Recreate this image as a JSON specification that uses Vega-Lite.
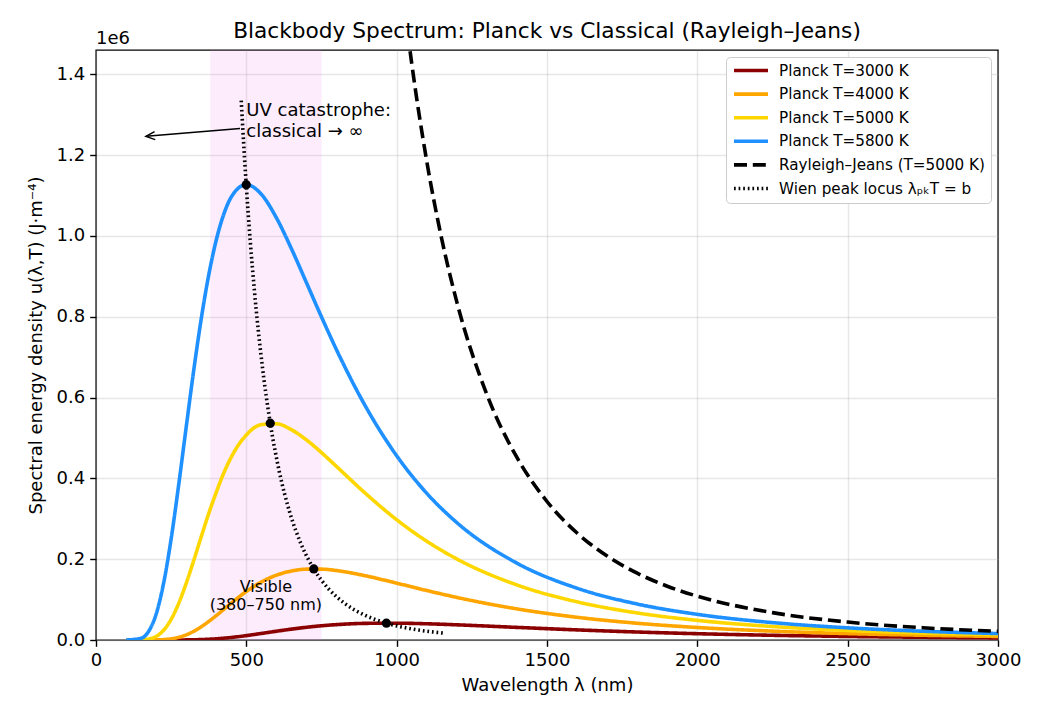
{
  "$schema": "https://vega.github.io/schema/vega-lite/v6.json",
  "width": 902,
  "height": 590,
  "autosize": {"type": "none"},
  "padding": {"left": 96, "top": 50, "right": 42, "bottom": 75},
  "background": "white",
  "title": {
    "text": "Blackbody Spectrum: Planck vs Classical (Rayleigh–Jeans)",
    "fontSize": 21.7,
    "fontWeight": "normal",
    "font": "DejaVu Sans",
    "color": "black",
    "anchor": "middle",
    "frame": "group",
    "baseline": "alphabetic",
    "offset": 0,
    "dy": 30
  },
  "config": {
    "font": "DejaVu Sans",
    "view": {"stroke": "black", "strokeWidth": 1.4},
    "axis": {
      "domain": false,
      "grid": true,
      "gridColor": "#b0b0b0",
      "gridOpacity": 0.3,
      "gridWidth": 1.4,
      "ticks": true,
      "tickColor": "black",
      "tickWidth": 1.4,
      "tickSize": 6.3,
      "labelFont": "DejaVu Sans",
      "labelFontSize": 18,
      "labelColor": "black",
      "labelPadding": 5,
      "titleFont": "DejaVu Sans",
      "titleFontSize": 18,
      "titleFontWeight": "normal",
      "titleColor": "black"
    },
    "legend": {
      "orient": "top-right",
      "offset": 7,
      "padding": 6,
      "fillColor": "white",
      "strokeColor": "#cccccc",
      "cornerRadius": 4,
      "labelFont": "DejaVu Sans",
      "labelFontSize": 15.2,
      "labelColor": "black",
      "labelOffset": 9,
      "symbolType": "stroke",
      "symbolSize": 1156,
      "clipHeight": 15,
      "rowPadding": 7.6,
      "labelLimit": 400
    }
  },
  "datasets": {
    "curves": [
      {"series": "Planck T=3000 K", "lambda": 100, "u": 0},
      {"series": "Planck T=3000 K", "lambda": 150, "u": 0},
      {"series": "Planck T=3000 K", "lambda": 175, "u": 0},
      {"series": "Planck T=3000 K", "lambda": 200, "u": 0},
      {"series": "Planck T=3000 K", "lambda": 225, "u": 5},
      {"series": "Planck T=3000 K", "lambda": 250, "u": 24},
      {"series": "Planck T=3000 K", "lambda": 275, "u": 85},
      {"series": "Planck T=3000 K", "lambda": 300, "u": 235},
      {"series": "Planck T=3000 K", "lambda": 325, "u": 537},
      {"series": "Planck T=3000 K", "lambda": 350, "u": 1064},
      {"series": "Planck T=3000 K", "lambda": 375, "u": 1879},
      {"series": "Planck T=3000 K", "lambda": 400, "u": 3026},
      {"series": "Planck T=3000 K", "lambda": 425, "u": 4524},
      {"series": "Planck T=3000 K", "lambda": 450, "u": 6364},
      {"series": "Planck T=3000 K", "lambda": 500, "u": 10908},
      {"series": "Planck T=3000 K", "lambda": 550, "u": 16200},
      {"series": "Planck T=3000 K", "lambda": 600, "u": 21692},
      {"series": "Planck T=3000 K", "lambda": 650, "u": 26893},
      {"series": "Planck T=3000 K", "lambda": 700, "u": 31462},
      {"series": "Planck T=3000 K", "lambda": 750, "u": 35206},
      {"series": "Planck T=3000 K", "lambda": 800, "u": 38053},
      {"series": "Planck T=3000 K", "lambda": 900, "u": 41203},
      {"series": "Planck T=3000 K", "lambda": 1000, "u": 41599},
      {"series": "Planck T=3000 K", "lambda": 1100, "u": 40127},
      {"series": "Planck T=3000 K", "lambda": 1200, "u": 37563},
      {"series": "Planck T=3000 K", "lambda": 1400, "u": 31210},
      {"series": "Planck T=3000 K", "lambda": 1600, "u": 25013},
      {"series": "Planck T=3000 K", "lambda": 1800, "u": 19777},
      {"series": "Planck T=3000 K", "lambda": 2000, "u": 15600},
      {"series": "Planck T=3000 K", "lambda": 2250, "u": 11656},
      {"series": "Planck T=3000 K", "lambda": 2500, "u": 8799},
      {"series": "Planck T=3000 K", "lambda": 2750, "u": 6725},
      {"series": "Planck T=3000 K", "lambda": 3000, "u": 5206},

      {"series": "Planck T=4000 K", "lambda": 100, "u": 0},
      {"series": "Planck T=4000 K", "lambda": 150, "u": 0},
      {"series": "Planck T=4000 K", "lambda": 175, "u": 36},
      {"series": "Planck T=4000 K", "lambda": 200, "u": 241},
      {"series": "Planck T=4000 K", "lambda": 225, "u": 988},
      {"series": "Planck T=4000 K", "lambda": 250, "u": 2885},
      {"series": "Planck T=4000 K", "lambda": 275, "u": 6625},
      {"series": "Planck T=4000 K", "lambda": 300, "u": 12753},
      {"series": "Planck T=4000 K", "lambda": 325, "u": 21495},
      {"series": "Planck T=4000 K", "lambda": 350, "u": 32717},
      {"series": "Planck T=4000 K", "lambda": 375, "u": 45969},
      {"series": "Planck T=4000 K", "lambda": 400, "u": 60397},
      {"series": "Planck T=4000 K", "lambda": 425, "u": 75989},
      {"series": "Planck T=4000 K", "lambda": 450, "u": 91409},
      {"series": "Planck T=4000 K", "lambda": 500, "u": 120093},
      {"series": "Planck T=4000 K", "lambda": 550, "u": 143511},
      {"series": "Planck T=4000 K", "lambda": 600, "u": 160354},
      {"series": "Planck T=4000 K", "lambda": 650, "u": 170679},
      {"series": "Planck T=4000 K", "lambda": 700, "u": 175290},
      {"series": "Planck T=4000 K", "lambda": 750, "u": 175296},
      {"series": "Planck T=4000 K", "lambda": 800, "u": 171816},
      {"series": "Planck T=4000 K", "lambda": 900, "u": 158290},
      {"series": "Planck T=4000 K", "lambda": 1000, "u": 140686},
      {"series": "Planck T=4000 K", "lambda": 1100, "u": 122480},
      {"series": "Planck T=4000 K", "lambda": 1200, "u": 105402},
      {"series": "Planck T=4000 K", "lambda": 1400, "u": 76998},
      {"series": "Planck T=4000 K", "lambda": 1600, "u": 56215},
      {"series": "Planck T=4000 K", "lambda": 1800, "u": 41435},
      {"series": "Planck T=4000 K", "lambda": 2000, "u": 30952},
      {"series": "Planck T=4000 K", "lambda": 2250, "u": 21938},
      {"series": "Planck T=4000 K", "lambda": 2500, "u": 15899},
      {"series": "Planck T=4000 K", "lambda": 2750, "u": 11762},
      {"series": "Planck T=4000 K", "lambda": 3000, "u": 8868},

      {"series": "Planck T=5000 K", "lambda": 100, "u": 0},
      {"series": "Planck T=5000 K", "lambda": 150, "u": 306},
      {"series": "Planck T=5000 K", "lambda": 175, "u": 2198},
      {"series": "Planck T=5000 K", "lambda": 200, "u": 8804},
      {"series": "Planck T=5000 K", "lambda": 225, "u": 24166},
      {"series": "Planck T=5000 K", "lambda": 250, "u": 51273},
      {"series": "Planck T=5000 K", "lambda": 275, "u": 90620},
      {"series": "Planck T=5000 K", "lambda": 300, "u": 140285},
      {"series": "Planck T=5000 K", "lambda": 325, "u": 196660},
      {"series": "Planck T=5000 K", "lambda": 350, "u": 255566},
      {"series": "Planck T=5000 K", "lambda": 375, "u": 313192},
      {"series": "Planck T=5000 K", "lambda": 400, "u": 365384},
      {"series": "Planck T=5000 K", "lambda": 425, "u": 413414},
      {"series": "Planck T=5000 K", "lambda": 450, "u": 452750},
      {"series": "Planck T=5000 K", "lambda": 500, "u": 507489},
      {"series": "Planck T=5000 K", "lambda": 550, "u": 532895},
      {"series": "Planck T=5000 K", "lambda": 600, "u": 534965},
      {"series": "Planck T=5000 K", "lambda": 650, "u": 520406},
      {"series": "Planck T=5000 K", "lambda": 700, "u": 495118},
      {"series": "Planck T=5000 K", "lambda": 750, "u": 463660},
      {"series": "Planck T=5000 K", "lambda": 800, "u": 429340},
      {"series": "Planck T=5000 K", "lambda": 900, "u": 360298},
      {"series": "Planck T=5000 K", "lambda": 1000, "u": 297689},
      {"series": "Planck T=5000 K", "lambda": 1100, "u": 244470},
      {"series": "Planck T=5000 K", "lambda": 1200, "u": 200614},
      {"series": "Planck T=5000 K", "lambda": 1400, "u": 136312},
      {"series": "Planck T=5000 K", "lambda": 1600, "u": 94460},
      {"series": "Planck T=5000 K", "lambda": 1800, "u": 66952},
      {"series": "Planck T=5000 K", "lambda": 2000, "u": 48519},
      {"series": "Planck T=5000 K", "lambda": 2250, "u": 33392},
      {"series": "Planck T=5000 K", "lambda": 2500, "u": 23653},
      {"series": "Planck T=5000 K", "lambda": 2750, "u": 17183},
      {"series": "Planck T=5000 K", "lambda": 3000, "u": 12764},

      {"series": "Planck T=5800 K", "lambda": 100, "u": 8},
      {"series": "Planck T=5800 K", "lambda": 150, "u": 4320},
      {"series": "Planck T=5800 K", "lambda": 175, "u": 21229},
      {"series": "Planck T=5800 K", "lambda": 200, "u": 64060},
      {"series": "Planck T=5800 K", "lambda": 225, "u": 141030},
      {"series": "Planck T=5800 K", "lambda": 250, "u": 250785},
      {"series": "Planck T=5800 K", "lambda": 275, "u": 383757},
      {"series": "Planck T=5800 K", "lambda": 300, "u": 526830},
      {"series": "Planck T=5800 K", "lambda": 325, "u": 667150},
      {"series": "Planck T=5800 K", "lambda": 350, "u": 794784},
      {"series": "Planck T=5800 K", "lambda": 375, "u": 903344},
      {"series": "Planck T=5800 K", "lambda": 400, "u": 989865},
      {"series": "Planck T=5800 K", "lambda": 425, "u": 1053750},
      {"series": "Planck T=5800 K", "lambda": 450, "u": 1096300},
      {"series": "Planck T=5800 K", "lambda": 500, "u": 1126809},
      {"series": "Planck T=5800 K", "lambda": 550, "u": 1102850},
      {"series": "Planck T=5800 K", "lambda": 600, "u": 1044739},
      {"series": "Planck T=5800 K", "lambda": 650, "u": 968234},
      {"series": "Planck T=5800 K", "lambda": 700, "u": 884134},
      {"series": "Planck T=5800 K", "lambda": 750, "u": 799392},
      {"series": "Planck T=5800 K", "lambda": 800, "u": 718120},
      {"series": "Planck T=5800 K", "lambda": 900, "u": 573551},
      {"series": "Planck T=5800 K", "lambda": 1000, "u": 455970},
      {"series": "Planck T=5800 K", "lambda": 1100, "u": 363130},
      {"series": "Planck T=5800 K", "lambda": 1200, "u": 290663},
      {"series": "Planck T=5800 K", "lambda": 1400, "u": 190142},
      {"series": "Planck T=5800 K", "lambda": 1600, "u": 128217},
      {"series": "Planck T=5800 K", "lambda": 1800, "u": 89035},
      {"series": "Planck T=5800 K", "lambda": 2000, "u": 63505},
      {"series": "Planck T=5800 K", "lambda": 2250, "u": 43037},
      {"series": "Planck T=5800 K", "lambda": 2500, "u": 30120},
      {"series": "Planck T=5800 K", "lambda": 2750, "u": 21673},
      {"series": "Planck T=5800 K", "lambda": 3000, "u": 15974},

      {"series": "Rayleigh–Jeans (T=5000 K)", "lambda": 1000, "u": 1734970},
      {"series": "Rayleigh–Jeans (T=5000 K)", "lambda": 1050, "u": 1427360},
      {"series": "Rayleigh–Jeans (T=5000 K)", "lambda": 1100, "u": 1185010},
      {"series": "Rayleigh–Jeans (T=5000 K)", "lambda": 1150, "u": 991973},
      {"series": "Rayleigh–Jeans (T=5000 K)", "lambda": 1200, "u": 836695},
      {"series": "Rayleigh–Jeans (T=5000 K)", "lambda": 1300, "u": 607461},
      {"series": "Rayleigh–Jeans (T=5000 K)", "lambda": 1400, "u": 451627},
      {"series": "Rayleigh–Jeans (T=5000 K)", "lambda": 1500, "u": 342710},
      {"series": "Rayleigh–Jeans (T=5000 K)", "lambda": 1600, "u": 264736},
      {"series": "Rayleigh–Jeans (T=5000 K)", "lambda": 1700, "u": 207729},
      {"series": "Rayleigh–Jeans (T=5000 K)", "lambda": 1800, "u": 165273},
      {"series": "Rayleigh–Jeans (T=5000 K)", "lambda": 1900, "u": 133131},
      {"series": "Rayleigh–Jeans (T=5000 K)", "lambda": 2000, "u": 108436},
      {"series": "Rayleigh–Jeans (T=5000 K)", "lambda": 2250, "u": 67696},
      {"series": "Rayleigh–Jeans (T=5000 K)", "lambda": 2500, "u": 44415},
      {"series": "Rayleigh–Jeans (T=5000 K)", "lambda": 2750, "u": 30336},
      {"series": "Rayleigh–Jeans (T=5000 K)", "lambda": 3000, "u": 21419},

      {"series": "Wien peak locus λₚₖT = b", "lambda": 483.0, "u": 1334880},
      {"series": "Wien peak locus λₚₖT = b", "lambda": 491.2, "u": 1227290},
      {"series": "Wien peak locus λₚₖT = b", "lambda": 499.6, "u": 1126740},
      {"series": "Wien peak locus λₚₖT = b", "lambda": 512.9, "u": 988389},
      {"series": "Wien peak locus λₚₖT = b", "lambda": 526.9, "u": 863975},
      {"series": "Wien peak locus λₚₖT = b", "lambda": 552.0, "u": 684671},
      {"series": "Wien peak locus λₚₖT = b", "lambda": 579.6, "u": 536459},
      {"series": "Wien peak locus λₚₖT = b", "lambda": 610.1, "u": 415100},
      {"series": "Wien peak locus λₚₖT = b", "lambda": 644.0, "u": 316772},
      {"series": "Wien peak locus λₚₖT = b", "lambda": 681.8, "u": 238028},
      {"series": "Wien peak locus λₚₖT = b", "lambda": 724.4, "u": 175787},
      {"series": "Wien peak locus λₚₖT = b", "lambda": 772.7, "u": 127304},
      {"series": "Wien peak locus λₚₖT = b", "lambda": 827.9, "u": 90163},
      {"series": "Wien peak locus λₚₖT = b", "lambda": 891.6, "u": 62245},
      {"series": "Wien peak locus λₚₖT = b", "lambda": 965.9, "u": 41715},
      {"series": "Wien peak locus λₚₖT = b", "lambda": 1053.7, "u": 26999},
      {"series": "Wien peak locus λₚₖT = b", "lambda": 1159.1, "u": 16764}
    ],
    "peaks": [
      {"T": 5800, "lambda": 499.6, "u": 1126740},
      {"T": 5000, "lambda": 579.6, "u": 536459},
      {"T": 4000, "lambda": 724.4, "u": 175787},
      {"T": 3000, "lambda": 965.9, "u": 41715}
    ],
    "band": [
      {"lo": 380, "hi": 750}
    ],
    "note": [
      {"label": "annotation"}
    ]
  },
  "layer": [
    {
      "data": {"name": "band"},
      "mark": {"type": "rect", "color": "#ee82ee", "opacity": 0.15},
      "encoding": {
        "x": {"field": "lo", "type": "quantitative", "scale": {"domain": [0, 3000], "nice": false}},
        "x2": {"field": "hi"}
      }
    },
    {
      "data": {"name": "curves"},
      "mark": {"type": "line", "interpolate": "monotone", "clip": true},
      "encoding": {
        "x": {
          "field": "lambda",
          "type": "quantitative",
          "title": "Wavelength λ (nm)",
          "scale": {"domain": [0, 3000], "nice": false},
          "axis": {"values": [0, 500, 1000, 1500, 2000, 2500, 3000], "format": "d", "labelFlush": false, "titlePadding": 7}
        },
        "y": {
          "field": "u",
          "type": "quantitative",
          "title": "Spectral energy density u(λ,T)  (J·m⁻⁴)",
          "scale": {"domain": [0, 1460000], "nice": false},
          "axis": {
            "values": [0, 200000, 400000, 600000, 800000, 1000000, 1200000, 1400000],
            "labelExpr": "format(datum.value / 1e6, '.1f')",
            "titlePadding": 11
          }
        },
        "color": {
          "field": "series",
          "type": "nominal",
          "title": null,
          "scale": {
            "domain": ["Planck T=3000 K", "Planck T=4000 K", "Planck T=5000 K", "Planck T=5800 K", "Rayleigh–Jeans (T=5000 K)", "Wien peak locus λₚₖT = b"],
            "range": ["#8b0000", "#ffa500", "#ffd700", "#1e90ff", "#000000", "#000000"]
          }
        },
        "strokeDash": {
          "field": "series",
          "type": "nominal",
          "title": null,
          "scale": {
            "domain": ["Planck T=3000 K", "Planck T=4000 K", "Planck T=5000 K", "Planck T=5800 K", "Rayleigh–Jeans (T=5000 K)", "Wien peak locus λₚₖT = b"],
            "range": [[1, 0], [1, 0], [1, 0], [1, 0], [13, 5.8], [1.7, 2.9]]
          }
        },
        "strokeWidth": {
          "field": "series",
          "type": "nominal",
          "title": null,
          "scale": {
            "domain": ["Planck T=3000 K", "Planck T=4000 K", "Planck T=5000 K", "Planck T=5800 K", "Rayleigh–Jeans (T=5000 K)", "Wien peak locus λₚₖT = b"],
            "range": [3.6, 3.6, 3.6, 3.6, 3.4, 1.7]
          }
        }
      }
    },
    {
      "data": {"name": "peaks"},
      "mark": {"type": "point", "filled": true, "color": "black", "size": 85, "opacity": 1},
      "encoding": {
        "x": {"field": "lambda", "type": "quantitative"},
        "y": {"field": "u", "type": "quantitative"}
      }
    },
    {
      "data": {"name": "note"},
      "mark": {"type": "rule", "color": "black", "strokeWidth": 1.5},
      "encoding": {
        "x": {"datum": 479},
        "y": {"datum": 1265500},
        "x2": {"datum": 167},
        "y2": {"datum": 1246500}
      }
    },
    {
      "data": {"name": "note"},
      "mark": {"type": "point", "shape": "M 1 -0.45 L 0 0 L 1 0.45", "filled": false, "stroke": "black", "strokeWidth": 1.5, "size": 324, "angle": 355.3, "opacity": 1},
      "encoding": {
        "x": {"datum": 166},
        "y": {"datum": 1246300}
      }
    },
    {
      "data": {"name": "note"},
      "mark": {"type": "text", "align": "left", "baseline": "middle", "fontSize": 18, "lineHeight": 21, "color": "black", "text": ["UV catastrophe:", "classical → ∞"]},
      "encoding": {
        "x": {"datum": 500},
        "y": {"datum": 1310000}
      }
    },
    {
      "data": {"name": "note"},
      "mark": {"type": "text", "align": "center", "baseline": "middle", "fontSize": 16, "lineHeight": 18, "color": "black", "text": ["Visible", "(380–750 nm)"]},
      "encoding": {
        "x": {"datum": 565},
        "y": {"datum": 131000}
      }
    },
    {
      "data": {"name": "note"},
      "mark": {"type": "text", "align": "left", "baseline": "alphabetic", "fontSize": 18, "dy": -6.5, "color": "black", "text": "1e6"},
      "encoding": {
        "x": {"datum": 0},
        "y": {"datum": 1460000}
      }
    }
  ]
}
